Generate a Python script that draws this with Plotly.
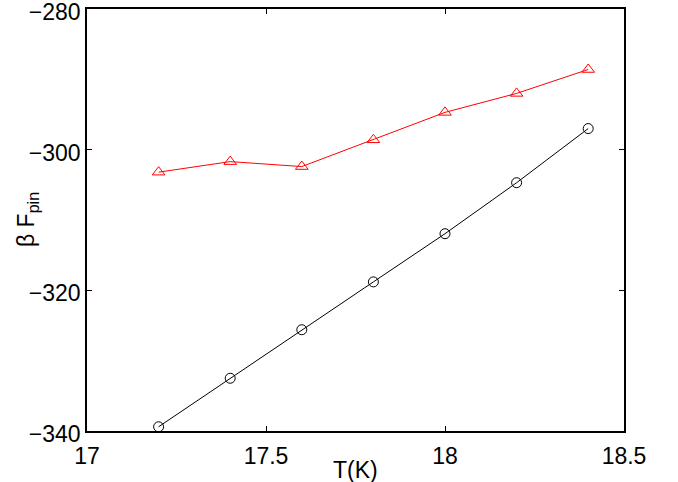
import plotly.graph_objects as go

T = [17.2, 17.4, 17.6, 17.8, 18.0, 18.2, 18.4]
red_vals = [-303.2, -301.7, -302.4, -298.6, -294.7, -292.0, -288.6]
black_vals = [-339.4, -332.5, -325.6, -318.8, -311.95, -304.7, -297.0]
xticks = [17, 17.5, 18, 18.5]
yticks = [-340, -320, -300, -280]

FONT = "Liberation Sans, Arial"
FS = 23

fig = go.Figure()
fig.add_trace(go.Scatter(x=T, y=red_vals, mode="lines+markers",
                         line=dict(color="red", width=1),
                         marker=dict(symbol="triangle-up-open", size=11, color="red", line=dict(width=1))))
fig.add_trace(go.Scatter(x=T, y=black_vals, mode="lines+markers",
                         line=dict(color="black", width=1),
                         marker=dict(symbol="circle-open", size=10, color="black", line=dict(width=1))))

axis_common = dict(showline=True, linecolor="black", linewidth=1.5, mirror="ticks",
                   ticks="inside", ticklen=5, tickwidth=1, tickcolor="black",
                   showgrid=False, zeroline=False, automargin=False,
                   ticklabeloverflow="allow",
                   tickfont=dict(family=FONT, size=FS, color="black"))
fig.update_xaxes(range=[17, 18.5], tickvals=xticks, ticktext=["17", "17.5", "18", "18.5"],
                 ticklabelstandoff=4, **axis_common)
fig.update_yaxes(range=[-340, -280], tickvals=yticks, ticktext=["\u2212340", "\u2212320", "\u2212300", "\u2212280"],
                 ticklabelshift=3, **axis_common)
fig.add_annotation(text="T(K)", xref="paper", yref="paper", x=0.5, y=0,
                   xanchor="center", yanchor="middle", yshift=-39, showarrow=False,
                   font=dict(family=FONT, size=FS, color="black"))
fig.add_annotation(text="\u03b2 F<sub>pin</sub>", xref="paper", yref="paper", x=0, y=0.5,
                   xanchor="center", yanchor="middle", xshift=-60, textangle=-90, showarrow=False,
                   font=dict(family=FONT, size=FS, color="black"))
fig.update_layout(width=678, height=482, showlegend=False,
                  plot_bgcolor="white", paper_bgcolor="white",
                  margin=dict(l=87, r=54, t=9, b=51))
fig.write_html("out.html", config={"displayModeBar": False},
               post_script="document.body.style.margin='0';")
